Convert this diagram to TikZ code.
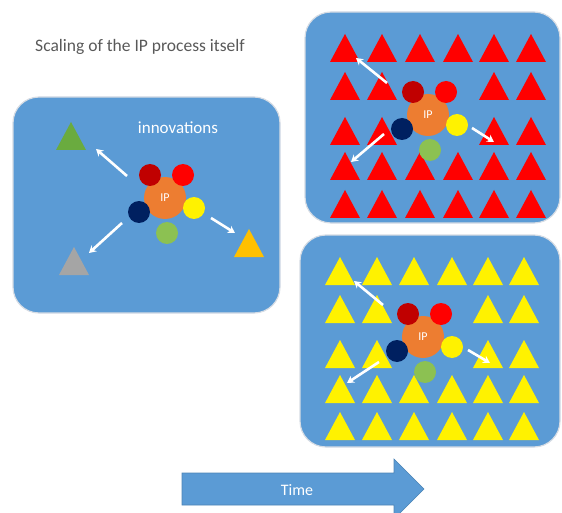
\documentclass[tikz,border=0pt]{standalone}
\usepackage{fontspec}
\setmainfont{Carlito}
\usetikzlibrary{arrows.meta,shapes.geometric}
\definecolor{boxblue}{HTML}{5B9BD5}
\definecolor{boxedge}{HTML}{D6DCE4}
\definecolor{ipor}{HTML}{ED7D31}
\definecolor{dred}{HTML}{C00000}
\definecolor{navy}{HTML}{002060}
\definecolor{lgreen}{HTML}{8CC152}
\definecolor{tgreen}{HTML}{6AAB3F}
\definecolor{tgray}{HTML}{A5A5A5}
\definecolor{tor}{HTML}{FFC000}
\definecolor{titlegray}{HTML}{595959}
\tikzset{
  panel/.style={fill=boxblue,draw=boxedge,line width=1.2pt,rounded corners=26pt},
  ball/.style={circle,minimum size=22pt,inner sep=0pt},
  ipblob/.style={circle,fill=ipor,minimum size=42pt,inner sep=0pt,text=white,font=\fontsize{12}{13}\selectfont},
  wharrow/.style={draw=white,line width=2.6pt,-{Stealth[length=7pt,width=8pt]}},
}
\newcommand\mytri[3]{\fill[#1] (#2-15,#3) -- (#2,#3-28) -- (#2+15,#3) -- cycle;}
\newcommand\ipcluster[3]{%
  \node[ipblob] (#1ip) at (#2,#3) {IP};
  \node[ball,fill=dred] (#1dr) at (#2-15,#3-23) {};
  \node[ball,fill=red] (#1rd) at (#2+18,#3-23) {};
  \node[ball,fill=navy] (#1nv) at (#2-26,#3+14) {};
  \node[ball,fill=yellow] (#1yl) at (#2+29,#3+10) {};
  \node[ball,fill=lgreen] (#1gr) at (#2+2,#3+35) {};
}
\begin{document}
\begin{tikzpicture}[x=1pt,y=-1pt]
\useasboundingbox (0,0) rectangle (562,513);

% title
\node[text=titlegray,font=\fontsize{17.5}{19}\selectfont] (title) at (140,47) {Scaling of the IP process itself};

% ---------- left panel ----------
\path[panel] (13,97) rectangle (280,313);
\node[text=white,font=\fontsize{17}{19}\selectfont] (innov) at (178,128) {innovations};
\mytri{tgreen}{71}{150}
\mytri{tgray}{74}{275}
\mytri{tor}{249}{257}
\ipcluster{L}{165}{198}
\coordinate (LnwA) at (127,176); \coordinate (LnwB) at (96,149);
\coordinate (LswA) at (122,223); \coordinate (LswB) at (89,253);
\coordinate (LseA) at (211,218); \coordinate (LseB) at (235,233);
\draw[wharrow] (LnwA) -- (LnwB);
\draw[wharrow] (LswA) -- (LswB);
\draw[wharrow] (LseA) -- (LseB);

% ---------- top-right panel ----------
\path[panel] (305,12) rectangle (560,223);
\foreach \r/\yy in {1/62,2/100,3/145,4/180,5/218}{
  \foreach \c/\xx in {1/345,2/382,3/420,4/458,5/494,6/531}{
    \pgfmathtruncatemacro\skipit{((\r==2 || \r==3) && (\c==3 || \c==4)) ? 1 : 0}
    \ifnum\skipit=0 \mytri{red}{\xx}{\yy}\fi
  }
}
\ipcluster{T}{428}{115}
\coordinate (TnwA) at (387,83); \coordinate (TnwB) at (356,58);
\coordinate (TswA) at (384,134); \coordinate (TswB) at (351,162);
\coordinate (TseA) at (472,128); \coordinate (TseB) at (494,142);
\draw[wharrow] (TnwA) -- (TnwB);
\draw[wharrow] (TswA) -- (TswB);
\draw[wharrow] (TseA) -- (TseB);

% ---------- bottom-right panel ----------
\path[panel] (300,235) rectangle (560,447);
\foreach \r/\yy in {1/285,2/323,3/368,4/403,5/440}{
  \foreach \c/\xx in {1/340,2/377,3/414,4/452,5/488,6/524}{
    \pgfmathtruncatemacro\skipit{((\r==2 || \r==3) && (\c==3 || \c==4)) ? 1 : 0}
    \ifnum\skipit=0 \mytri{yellow}{\xx}{\yy}\fi
  }
}
\ipcluster{B}{423}{337}
\coordinate (BnwA) at (383,305); \coordinate (BnwB) at (354,281);
\coordinate (BswA) at (379,362); \coordinate (BswB) at (347,383);
\coordinate (BseA) at (468,350); \coordinate (BseB) at (490,363);
\draw[wharrow] (BnwA) -- (BnwB);
\draw[wharrow] (BswA) -- (BswB);
\draw[wharrow] (BseA) -- (BseB);

% ---------- time arrow ----------
\path[fill=boxblue,draw=boxblue!85!black,line width=0.6pt]
  (182,473) -- (394,473) -- (394,459) -- (424,489) -- (394,519) -- (394,505) -- (182,505) -- cycle;
\node[text=white,font=\fontsize{16}{18}\selectfont] (time) at (297,490) {Time};
\end{tikzpicture}
\end{document}
